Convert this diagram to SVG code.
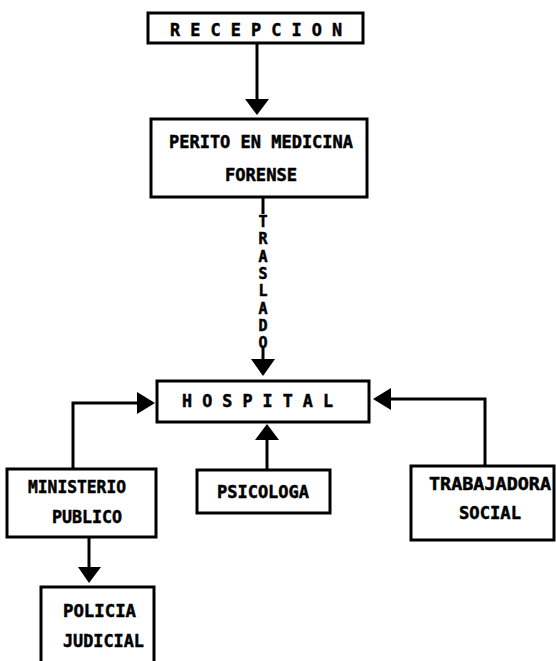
<svg xmlns="http://www.w3.org/2000/svg" width="556" height="661" viewBox="0 0 556 661">
<defs>
<style>
.box{fill:#fff;stroke:#000;stroke-width:3}
.ln{fill:none;stroke:#000;stroke-width:3}
.hd{fill:#000}
text{font-family:"DejaVu Sans Mono","Liberation Mono",monospace;font-weight:bold;font-size:18px;fill:#000;stroke:#000;stroke-width:0.5}
.v{font-size:15px;text-anchor:middle}
</style>
</defs>
<rect width="556" height="661" fill="#fff"/>
<g id="connectors">
<line class="ln" x1="257" y1="43" x2="257" y2="101"/>
<polygon class="hd" points="245,99 269,99 257,115"/>
<line class="ln" x1="263" y1="197" x2="263" y2="214"/>
<line class="ln" x1="263" y1="348" x2="263" y2="361"/>
<polygon class="hd" points="251,359 275,359 263,376"/>
<g id="traslado-label">
<text class="v" x="263" y="227">T</text>
<text class="v" x="263" y="244">R</text>
<text class="v" x="263" y="262">A</text>
<text class="v" x="263" y="279">S</text>
<text class="v" x="263" y="296">L</text>
<text class="v" x="263" y="314">A</text>
<text class="v" x="263" y="331">D</text>
<text class="v" x="263" y="348">O</text>
</g>
<polyline class="ln" points="73,470 73,403 139,403"/>
<polygon class="hd" points="137,392 137,414 155,403"/>
<polyline class="ln" points="485,466 485,399 389,399"/>
<polygon class="hd" points="391,388 391,410 373,399"/>
<line class="ln" x1="267" y1="470" x2="267" y2="438"/>
<polygon class="hd" points="255,440 279,440 267,424"/>
<line class="ln" x1="89" y1="537" x2="89" y2="569"/>
<polygon class="hd" points="78,567 101,567 89,583"/>
</g>
<g id="recepcion">
<rect class="box" x="148" y="13" width="215" height="30"/>
<text x="170" y="36" textLength="172" lengthAdjust="spacingAndGlyphs">R E C E P C I O N</text>
</g>
<g id="perito">
<rect class="box" x="151" y="119" width="216" height="78"/>
<text x="169" y="148" textLength="184" lengthAdjust="spacingAndGlyphs">PERITO EN MEDICINA</text>
<text x="225" y="181" textLength="72" lengthAdjust="spacingAndGlyphs">FORENSE</text>
</g>
<g id="hospital">
<rect class="box" x="157" y="381" width="212" height="41"/>
<text x="182" y="407" textLength="151" lengthAdjust="spacingAndGlyphs">H O S P I T A L</text>
</g>
<g id="ministerio">
<rect class="box" x="7" y="469" width="149" height="68"/>
<text x="28" y="493" textLength="98" lengthAdjust="spacingAndGlyphs">MINISTERIO</text>
<text x="52" y="523" textLength="70" lengthAdjust="spacingAndGlyphs">PUBLICO</text>
</g>
<g id="psicologa">
<rect class="box" x="197" y="470" width="133" height="43"/>
<text x="217" y="498" textLength="92" lengthAdjust="spacingAndGlyphs">PSICOLOGA</text>
</g>
<g id="trabajadora">
<rect class="box" x="411" y="466" width="143" height="74"/>
<text x="429" y="490" textLength="122" lengthAdjust="spacingAndGlyphs">TRABAJADORA</text>
<text x="459" y="519" textLength="62" lengthAdjust="spacingAndGlyphs">SOCIAL</text>
</g>
<g id="policia">
<rect class="box" x="41" y="587" width="113" height="80"/>
<text x="63" y="617" textLength="73" lengthAdjust="spacingAndGlyphs">POLICIA</text>
<text x="63" y="647" textLength="81" lengthAdjust="spacingAndGlyphs">JUDICIAL</text>
</g>
</svg>
